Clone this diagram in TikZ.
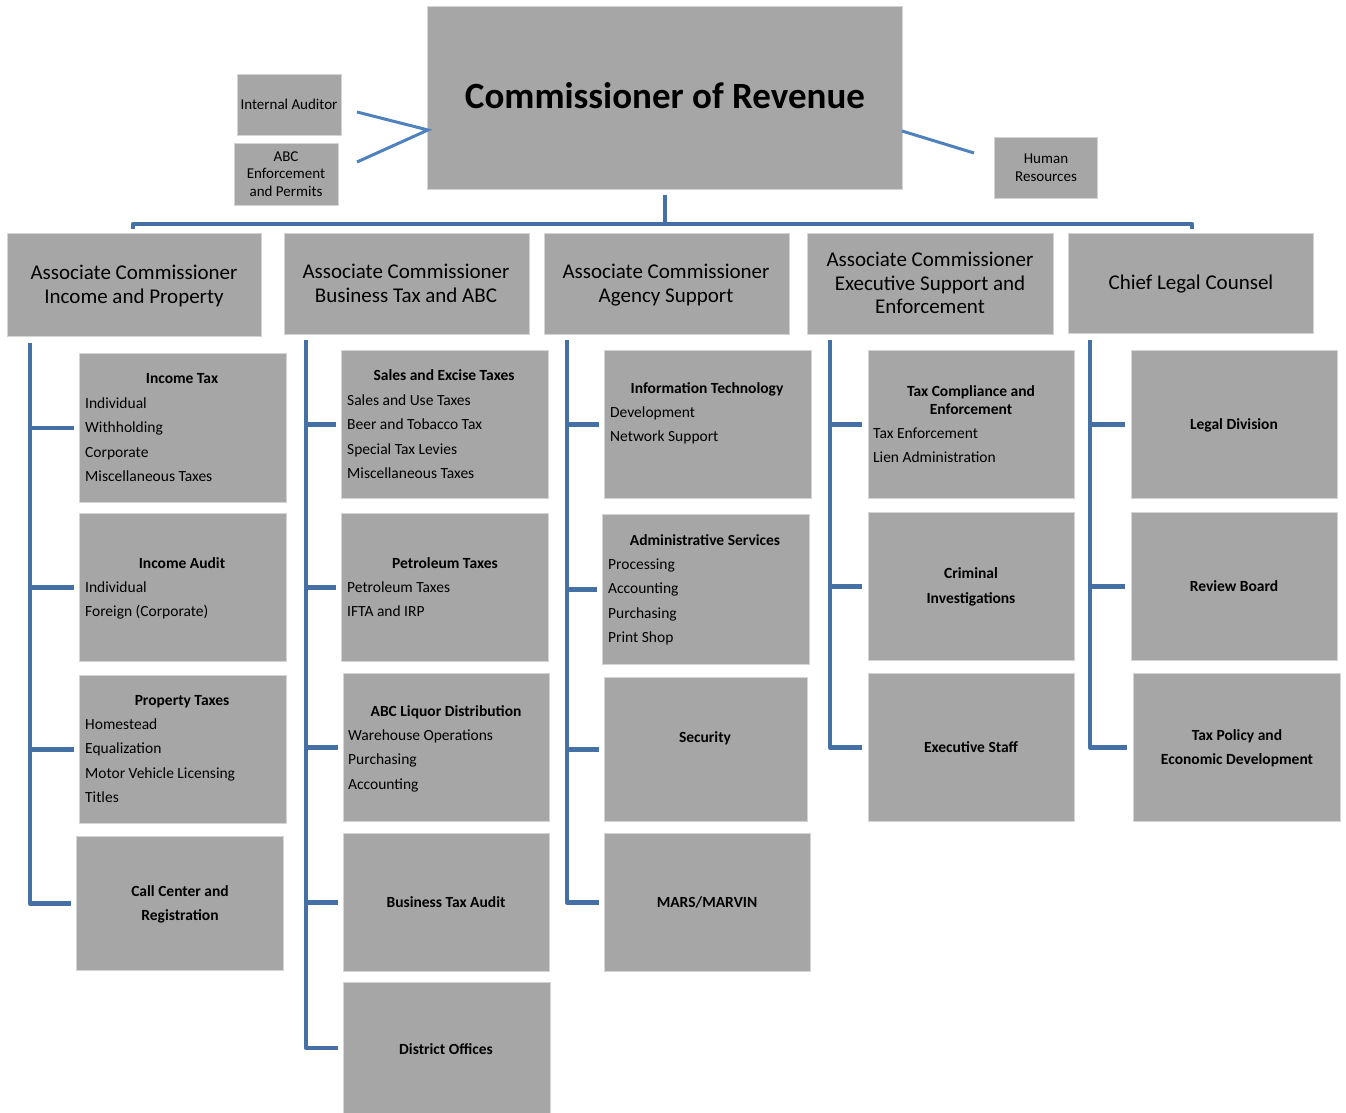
\documentclass[tikz,border=0pt]{standalone}
\usepackage{fontspec}
\setmainfont{Carlito}
\definecolor{boxgray}{HTML}{A6A6A6}
\definecolor{boxedge}{HTML}{D4D4D4}
\definecolor{connblue}{HTML}{4470A6}
\definecolor{diagblue}{HTML}{4F81BD}
\newcommand\bx[5]{\node[box, minimum width={(#4-#2)*1pt}, minimum height={(#5-#3)*1pt}] (#1) at (#2,#3) {};}
\newcommand\lst[4]{\foreach \nm [count=\k] in {#4} {\node[itm] (#1-\k) at ({#2},{#3+24.5*(\k-1)}) {\nm};}}
\newcommand\clst[5]{\foreach \nm [count=\k] in {#5} {\node[ttl] (#1-\k) at ({#2},{#3+#4*(\k-1)}) {\nm};}}
\begin{document}
\begin{tikzpicture}[x=1pt,y=-1pt,
  box/.style={fill=boxgray, draw=boxedge, line width=1pt, anchor=north west, inner sep=0pt},
  connline/.style={draw=connblue, line width=4.5pt, line join=round},
  diagline/.style={draw=diagblue, line width=3pt},
  itm/.style={anchor=mid west, inner sep=0pt, yshift=-3pt, font=\fontsize{15.5}{18}\selectfont},
  ttl/.style={anchor=mid, inner sep=0pt, yshift=-3pt, font=\fontsize{15.5}{18}\selectfont\bfseries},
  small/.style={anchor=mid, inner sep=0pt, yshift=-3pt, font=\fontsize{15}{17}\selectfont},
  assoc/.style={anchor=mid, inner sep=0pt, yshift=-5pt, font=\fontsize{21}{24}\selectfont},
]
\useasboundingbox (0,0) rectangle (1346,1113);

% top level
\bx{comm}{427}{6}{902}{189}
\node[anchor=mid, inner sep=0pt, yshift=-10pt, font=\fontsize{37}{40}\selectfont\bfseries] (commt) at (665,96) {Commissioner of Revenue};

\bx{ia}{237}{74}{341}{135}
\node[small] (iat) at (289,104) {Internal Auditor};
\bx{abc}{234}{143}{338}{205}
\foreach \nm [count=\k] in {ABC,Enforcement,and Permits} {\node[small] (abct-\k) at ({286},{156+17.5*(\k-1)}) {\nm};}
\bx{hr}{994}{137}{1097}{198}
\foreach \nm [count=\k] in {Human,Resources} {\node[small] (hrt-\k) at ({1046},{158+18*(\k-1)}) {\nm};}

\coordinate (iaend) at (357,112);
\coordinate (abcend) at (357,162);
\coordinate (commL) at (428,130);
\coordinate (commR) at (902,131);
\coordinate (hrend) at (974,153);
\draw[diagline] (iaend) -- (commL) -- (abcend);
\draw[diagline] (commR) -- (hrend);

% bar
\coordinate (commS) at (665,195);
\coordinate (barL) at (133,229);
\coordinate (barR) at (1192,229);
\coordinate (barY) at (0,224);
\draw[connline] (barL) -- (barL |- barY) -- (barR |- barY) -- (barR);
\draw[connline] (commS) -- (commS |- barY);

% level 2
\bx{a1}{7}{233}{261}{336}
\node[assoc] (a1t-1) at (134,272) {Associate Commissioner};
\node[assoc] (a1t-2) at (134,296) {Income and Property};
\bx{a2}{284}{233}{529}{334}
\node[assoc] (a2t-1) at (406,271) {Associate Commissioner};
\node[assoc] (a2t-2) at (406,295) {Business Tax and ABC};
\bx{a3}{544}{233}{789}{334}
\node[assoc] (a3t-1) at (666,271) {Associate Commissioner};
\node[assoc] (a3t-2) at (666,295) {Agency Support};
\bx{a4}{807}{233}{1053}{334}
\node[assoc] (a4t-1) at (930,259) {Associate Commissioner};
\node[assoc] (a4t-2) at (930,283) {Executive Support and};
\node[assoc] (a4t-3) at (930,306) {Enforcement};
\bx{a5}{1068}{233}{1313}{333}
\node[assoc] (a5t) at (1191,282) {Chief Legal Counsel};

% column 1
\bx{inc}{79}{353}{286}{502}
\node[ttl] (inct) at (182,378) {Income Tax};
\lst{incl}{85}{403}{Individual,Withholding,Corporate,Miscellaneous Taxes}
\bx{aud}{79}{513}{286}{661}
\node[ttl] (audt) at (182,563) {Income Audit};
\lst{audl}{85}{587}{Individual,{Foreign (Corporate)}}
\bx{prop}{79}{675}{286}{823}
\node[ttl] (propt) at (182,700) {Property Taxes};
\lst{propl}{85}{724}{Homestead,Equalization,Motor Vehicle Licensing,Titles}
\bx{call}{76}{836}{283}{970}
\clst{callt}{180}{891}{24}{Call Center and,Registration}

% column 2
\bx{sales}{341}{350}{548}{498}
\node[ttl] (salest) at (444,375) {Sales and Excise Taxes};
\lst{salesl}{347}{400}{Sales and Use Taxes,Beer and Tobacco Tax,Special Tax Levies,Miscellaneous Taxes}
\bx{pet}{341}{513}{548}{661}
\node[ttl] (pett) at (445,563) {Petroleum Taxes};
\lst{petl}{347}{587}{Petroleum Taxes,IFTA and IRP}
\bx{liq}{343}{673}{549}{821}
\node[ttl] (liqt) at (446,711) {ABC Liquor Distribution};
\lst{liql}{348}{735}{Warehouse Operations,Purchasing,Accounting}
\bx{bta}{343}{833}{549}{971}
\node[ttl] (btat) at (446,902) {Business Tax Audit};
\bx{dist}{343}{982}{550}{1113}
\node[ttl] (distt) at (446,1049) {District Offices};

% column 3
\bx{itb}{604}{350}{811}{498}
\node[ttl] (itbt) at (707,388) {Information Technology};
\lst{itbl}{610}{412}{Development,Network Support}
\bx{adm}{602}{514}{809}{664}
\node[ttl] (admt) at (705,540) {Administrative Services};
\lst{adml}{608}{564}{Processing,Accounting,Purchasing,Print Shop}
\bx{sec}{604}{677}{807}{821}
\node[ttl] (sect) at (705,737) {Security};
\bx{mars}{604}{833}{810}{971}
\node[ttl] (marst) at (707,902) {MARS/MARVIN};

% column 4
\bx{tce}{868}{350}{1074}{498}
\clst{tcet}{971}{391}{18}{Tax Compliance and,Enforcement}
\lst{tcel}{873}{433}{Tax Enforcement,Lien Administration}
\bx{crim}{868}{512}{1074}{660}
\clst{crimt}{971}{573}{25}{Criminal,Investigations}
\bx{exec}{868}{673}{1074}{821}
\node[ttl] (exect) at (971,747) {Executive Staff};

% column 5
\bx{legal}{1131}{350}{1337}{498}
\node[ttl] (legalt) at (1234,424) {Legal Division};
\bx{review}{1131}{512}{1337}{660}
\node[ttl] (reviewt) at (1234,586) {Review Board};
\bx{policy}{1133}{673}{1340}{821}
\clst{policyt}{1237}{735}{24}{Tax Policy and,Economic Development}

% column connectors
\coordinate (col1) at (30,343);
\coordinate (col2) at (306,340);
\coordinate (col3) at (567,340);
\coordinate (col4) at (830,340);
\coordinate (col5) at (1090,340);

\draw[connline] (col1) |- ([xshift=-5pt]call.west);
\foreach \b in {inc,aud,prop} \draw[connline] (col1 |- \b.west) -- ([xshift=-5pt]\b.west);
\draw[connline] (col2) |- ([xshift=-5pt]dist.west);
\foreach \b in {sales,pet,liq,bta} \draw[connline] (col2 |- \b.west) -- ([xshift=-5pt]\b.west);
\draw[connline] (col3) |- ([xshift=-5pt]mars.west);
\foreach \b in {itb,adm,sec} \draw[connline] (col3 |- \b.west) -- ([xshift=-5pt]\b.west);
\draw[connline] (col4) |- ([xshift=-6pt]exec.west);
\foreach \b in {tce,crim} \draw[connline] (col4 |- \b.west) -- ([xshift=-6pt]\b.west);
\draw[connline] (col5) |- ([xshift=-6pt]policy.west);
\foreach \b in {legal,review} \draw[connline] (col5 |- \b.west) -- ([xshift=-6pt]\b.west);
\end{tikzpicture}
\end{document}
